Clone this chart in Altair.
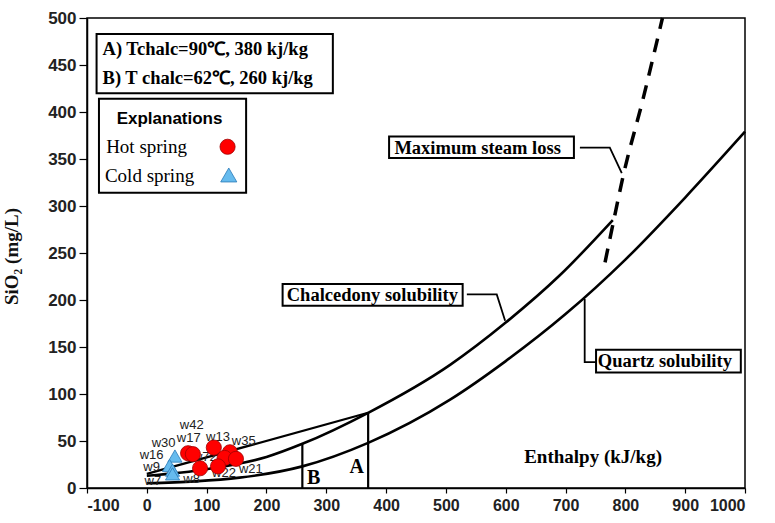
import altair as alt
import pandas as pd

# ---- curves (enthalpy kJ/kg, SiO2 mg/L) ----
quartz_h = [0, 80, 155, 260, 370, 507, 600, 700, 800, 900, 1000]
quartz_s = [5, 7, 11, 23, 48, 94, 135, 185, 243, 309, 379]
chal_h = [0, 100, 200, 260, 370, 507, 600, 690, 779]
chal_s = [13, 20, 33, 47, 80, 131, 176, 226, 285]
steam_h = [766, 780, 796, 830, 862]
steam_s = [240, 283, 331, 415, 500]
mix_h = [0, 370]
mix_s = [15, 80]

# ---- samples ----
hot_h = [69, 77, 112, 89, 139, 130, 149, 119]
hot_s = [37, 36, 43, 21, 38, 32, 31, 23]
cold_h = [47, 38, 43, 43]
cold_s = [34, 24, 19, 15]
label_text = ["w42", "w17", "w13", "w35", "w30", "w16", "w9", "w7", "w8", "w72", "w22", "w21"]
label_h = [75, 70, 119, 162, 28, 8, 8, 10, 75, 97, 129, 174]
label_s = [67, 53, 54, 50, 48, 35, 22, 7, 10, 33, 16, 20]

# ---- A / B markers ----
ab_name = ["B", "A"]
ab_h = [260, 370]
ab_top = [47, 80]
ab_label_h = [279, 351]
ab_label_s = [11, 22]

XS = alt.Scale(domain=[-100, 1000], nice=False, zero=False)
YS = alt.Scale(domain=[0, 500], nice=False, zero=False)

X_AXIS = alt.Axis(values=list(range(-100, 1001, 100)), tickSize=5, labelPadding=4, title=None,
                  labelExpr="'' + datum.value", labelFontSize=16)
Y_AXIS = alt.Axis(values=list(range(0, 501, 50)), tickSize=8, labelPadding=3,
                  labelExpr="'' + datum.value", labelFontSize=17,
                  title="SiO₂ (mg/L)", titleFont="Liberation Serif",
                  titleFontSize=19, titleFontWeight="bold", titleColor="#111",
                  titleX=-66, titleY=238)


def X(f="h"):
    return alt.X(f"{f}:Q", scale=XS, axis=X_AXIS)


def Y(f="s"):
    return alt.Y(f"{f}:Q", scale=YS, axis=Y_AXIS)


def line_df(hs, ss):
    return pd.DataFrame({"h": hs, "s": ss, "o": list(range(len(hs)))})


quartz = alt.Chart(line_df(quartz_h, quartz_s)).mark_line(
    color="black", strokeWidth=2.6, interpolate="monotone").encode(
    x=X(), y=Y(), order="o:Q")
chal = alt.Chart(line_df(chal_h, chal_s)).mark_line(
    color="black", strokeWidth=2.6, interpolate="monotone").encode(x=X(), y=Y(), order="o:Q")
steam = alt.Chart(line_df(steam_h, steam_s)).mark_line(
    color="black", strokeWidth=3.5, strokeDash=[14, 10], interpolate="monotone").encode(
    x=X(), y=Y(), order="o:Q")
mix = alt.Chart(line_df(mix_h, mix_s)).mark_line(
    color="black", strokeWidth=2.2).encode(x=X(), y=Y(), order="o:Q")

ab_df = pd.DataFrame({"n": ab_name, "h": ab_h, "top": ab_top, "lh": ab_label_h, "ls": ab_label_s, "zero": [0, 0]})
ab_rules = alt.Chart(ab_df).mark_rule(color="black", strokeWidth=2.2).encode(
    x=X(), y=Y("zero"), y2="top:Q")
ab_text = alt.Chart(ab_df).mark_text(font="Liberation Serif", fontWeight="bold",
                                     fontSize=20, color="black").encode(
    x=X("lh"), y=Y("ls"), text="n:N")

# sample labels (drawn under markers)
lab_df = pd.DataFrame({"t": label_text, "h": label_h, "s": label_s})
labels = alt.Chart(lab_df).mark_text(font="Liberation Sans", fontSize=13, color="#222").encode(
    x=X(), y=Y(), text="t:N")

hot = alt.Chart(pd.DataFrame({"h": hot_h, "s": hot_s})).mark_point(
    shape="circle", filled=True, size=230, fill="#ff0000", stroke="#a00000",
    strokeWidth=0.8, opacity=1).encode(x=X(), y=Y())
cold = alt.Chart(pd.DataFrame({"h": cold_h, "s": cold_s})).mark_point(
    shape="triangle-up", filled=True, size=200, fill="#66bbee", stroke="#2a7ab8",
    strokeWidth=0.8, opacity=1).encode(x=X(), y=Y())

# ---- annotation boxes ----
box_x = [-84, -80, 405, 227, 751]
box_x2 = [311, 166, 714, 528, 993]
box_y = [483, 414, 374, 217, 147]
box_y2 = [420, 314, 351, 194, 123]
boxes = alt.Chart(pd.DataFrame({"h": box_x, "h2": box_x2, "s": box_y, "s2": box_y2})).mark_rect(
    fill="white", stroke="black", strokeWidth=2).encode(
    x=X(), x2="h2:Q", y=Y(), y2="s2:Q")

# leader lines
lead_g = ["m", "m", "m", "c", "c", "c", "q", "q", "q"]
lead_h = [724, 774, 794, 535, 585, 599, 732, 732, 751]
lead_s = [362, 362, 335, 206, 206, 178, 201, 134, 134]
leaders = alt.Chart(pd.DataFrame({"g": lead_g, "h": lead_h, "s": lead_s,
                                  "o": list(range(len(lead_g)))})).mark_line(
    color="black", strokeWidth=1.8).encode(x=X(), y=Y(), detail="g:N", order="o:Q")

box_txt = ["A) Tchalc=90℃, 380 kj/kg", "B) T chalc=62℃, 260 kj/kg"]
box_txt_h = [-74, -74]
box_txt_s = [467, 436]
box_text = alt.Chart(pd.DataFrame({"t": box_txt, "h": box_txt_h, "s": box_txt_s})).mark_text(
    font="Liberation Serif", fontWeight="bold", fontSize=18.5, align="left", color="black").encode(
    x=X(), y=Y(), text="t:N")

name_txt = ["Maximum steam loss", "Chalcedony solubility", "Quartz solubility", "Enthalpy (kJ/kg)"]
name_h = [553, 377, 866, 746]
name_s = [362, 205, 135, 33]
name_size = [18.5, 18.5, 18.5, 19]
names = alt.Chart(pd.DataFrame({"t": name_txt, "h": name_h, "s": name_s, "z": name_size})).mark_text(
    font="Liberation Serif", fontWeight="bold", color="black").encode(
    x=X(), y=Y(), text="t:N", size=alt.Size("z:Q", scale=None, legend=None))

expl = alt.Chart(pd.DataFrame({"t": ["Explanations"], "h": [38], "s": [393]})).mark_text(
    font="Liberation Sans", fontWeight="bold", fontSize=17, color="black").encode(
    x=X(), y=Y(), text="t:N")
leg_txt = ["Hot spring", "Cold spring"]
leg_h = [-68, -70]
leg_s = [363, 332]
leg_text = alt.Chart(pd.DataFrame({"t": leg_txt, "h": leg_h, "s": leg_s})).mark_text(
    font="Liberation Serif", fontSize=19, align="left", color="black").encode(
    x=X(), y=Y(), text="t:N")
leg_hot = alt.Chart(pd.DataFrame({"h": [135], "s": [363]})).mark_point(
    shape="circle", filled=True, size=230, fill="#ff0000", stroke="#a00000",
    strokeWidth=0.8, opacity=1).encode(x=X(), y=Y())
leg_cold = alt.Chart(pd.DataFrame({"h": [137], "s": [333]})).mark_point(
    shape="triangle-up", filled=True, size=260, fill="#66bbee", stroke="#2a7ab8",
    strokeWidth=0.8, opacity=1).encode(x=X(), y=Y())

chart = alt.layer(
    quartz, chal, mix, steam, ab_rules, ab_text, labels, hot, cold,
    leaders, boxes, box_text, names, expl, leg_text, leg_hot, leg_cold
).properties(
    width=658, height=470, autosize="none",
    padding={"left": 87, "top": 18, "right": 30, "bottom": 35},
    background="white"
).configure_view(
    stroke="black", strokeWidth=1.5
).configure_axis(
    grid=False, domainColor="black", domainWidth=1.5, tickColor="black", tickWidth=1.2,
    labelFont="Liberation Sans", labelFontWeight="bold", labelColor="#222"
)

chart.save("out.html", embed_options={"renderer": "svg", "actions": False})
